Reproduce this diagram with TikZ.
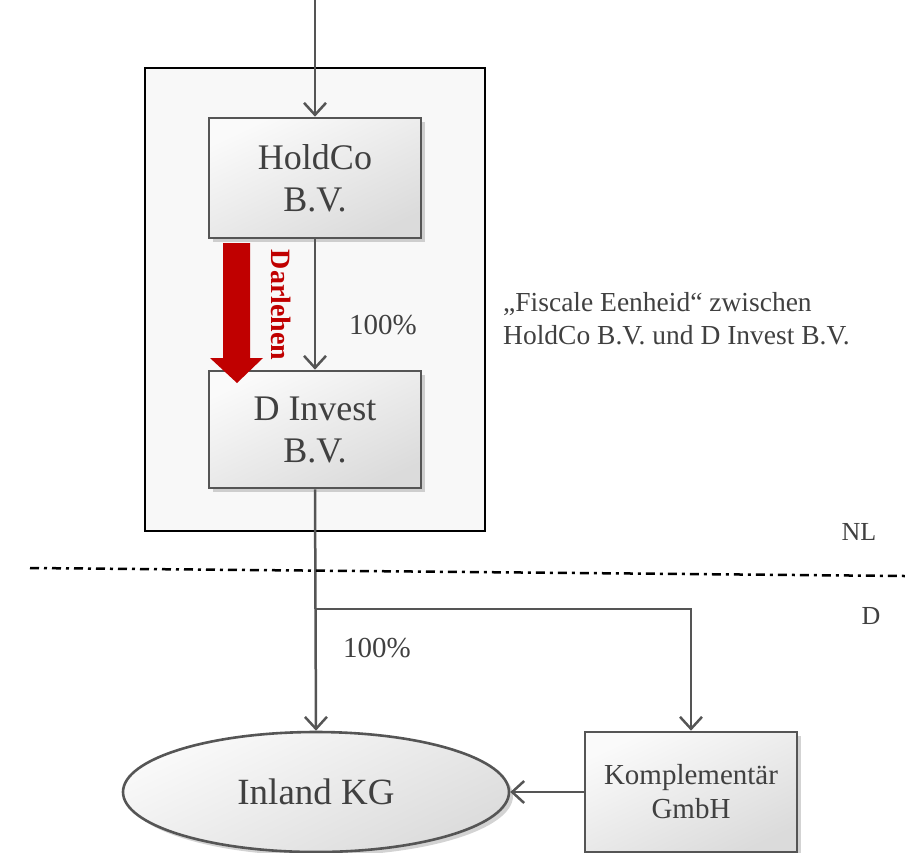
\documentclass[tikz,border=0pt]{standalone}
\usepackage{fontspec}
\setmainfont{Liberation Serif}
\usetikzlibrary{arrows.meta,shapes.geometric,shadows}
\definecolor{txt}{HTML}{404040}
\definecolor{edge}{HTML}{555555}
\definecolor{loan}{HTML}{C00000}
\definecolor{panel}{HTML}{F8F8F8}
\tikzset{
  entity/.style={draw=edge, line width=2.6pt, rectangle, text=txt, align=center,
    top color=gray!4, bottom color=gray!28, shading angle=25,
    drop shadow={shadow xshift=4pt, shadow yshift=-4pt, opacity=0.35, fill=gray}},
  link/.style={draw=edge, line width=2.5pt, -{Straight Barb[length=12pt,width=22pt,line width=2.5pt]}},
  note/.style={text=txt, inner sep=0pt}
}
\begin{document}
\begin{tikzpicture}[x=1pt,y=-1pt]
\useasboundingbox (0,0) rectangle (912,852);
\clip (0,0) rectangle (912,852);

% fiscal unity panel
\draw[fill=panel, line width=2.4pt] (145,68) rectangle (485,531);

% entities
\node[entity, minimum width=212pt, minimum height=120pt, font=\fontsize{36}{42}\selectfont]
  (holdco) at (315,178) {HoldCo\\B.V.};
\node[entity, minimum width=212pt, minimum height=117pt, font=\fontsize{36}{42}\selectfont]
  (dinvest) at (315,429.5) {D Invest\\B.V.};
\node[entity, ellipse, minimum width=386pt, minimum height=120pt, inner sep=0pt,
  font=\fontsize{37}{40}\selectfont] (kg) at (316,792) {Inland KG};
\node[entity, minimum width=212pt, minimum height=120pt, font=\fontsize{29}{34}\selectfont]
  (kompl) at (691,792) {Komplementär\\GmbH};

% ownership links
\coordinate (top) at (315,0);
\coordinate (fork) at (315,609);
\draw[link] (top) -- (holdco.north);
\draw[link] (holdco.south) -- (dinvest.north);
\draw[link] (dinvest.south) -- (kg.north);
\draw[link] (fork) -| (kompl.north);
\draw[link] (kompl.west) -- (kg.east);

% loan arrow
\fill[loan] (223,243) -- (250,243) -- (250,358) -- (263,358) -- (237,383)
  -- (210,358) -- (223,358) -- cycle;
\node[rotate=-90, text=loan, font=\fontsize{28}{30}\selectfont\bfseries, inner sep=0pt]
  (darlehen) at (281,305) {Darlehen};

% labels
\node[note, font=\fontsize{29}{30}\selectfont] (p1) at (383,325) {100\%};
\node[note, font=\fontsize{29}{30}\selectfont] (p2) at (377,648) {100\%};
\node[note, anchor=west, align=left, font=\fontsize{27.5}{33}\selectfont] (fe) at (503,319)
  {„Fiscale Eenheid“ zwischen\\HoldCo B.V. und D Invest B.V.};

% border line
\coordinate (bl) at (30,568);
\coordinate (br) at (905,576);
\draw[line width=2.5pt, dash pattern=on 9pt off 5pt on 3pt off 5pt] (bl) -- (br);
\node[note, font=\fontsize{26}{28}\selectfont] (nl) at (859,532) {NL};
\node[note, font=\fontsize{26}{28}\selectfont] (de) at (871,616) {D};
\end{tikzpicture}
\end{document}
